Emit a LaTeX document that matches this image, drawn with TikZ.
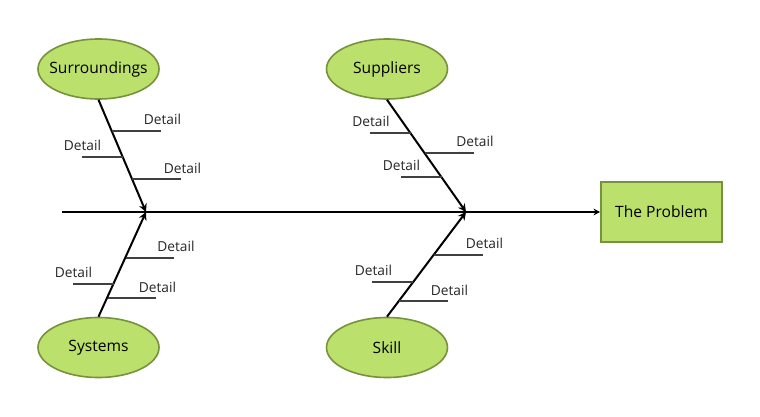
\documentclass[tikz,border=0pt]{standalone}
\usepackage{fontspec}
\setmainfont{Open Sans}
\usetikzlibrary{arrows.meta, shapes.geometric}
\definecolor{causefill}{RGB}{187,224,107}
\definecolor{causeline}{RGB}{118,146,60}
\definecolor{detailline}{RGB}{64,64,64}

\begin{document}
\begin{tikzpicture}[x=0.75pt, y=-0.75pt,
	cause/.style={ellipse, draw=causeline, fill=causefill, line width=1.2pt,
		minimum width=90.75pt, minimum height=45pt, inner xsep=-8pt, inner ysep=0pt,
		font=\fontsize{11.7}{14}\selectfont},
	problem/.style={rectangle, draw=causeline, fill=causefill, line width=1.2pt,
		minimum width=90.75pt, minimum height=45pt, inner sep=0pt,
		font=\fontsize{11.7}{14}\selectfont},
	bone/.style={line width=1.5pt, -{Stealth[length=6pt,width=6pt]}},
	detail/.style={detailline, line width=1.1pt},
	detailtext/.style={inner sep=0pt, text=black!85, font=\fontsize{10.3}{12}\selectfont}]
\useasboundingbox (0,0) rectangle (760,417);
\node[cause] (surroundings) at (98.5,69) {Surroundings};
\node[cause] (systems) at (98.5,347.5) {Systems};
\node[cause] (suppliers) at (387,69) {Suppliers};
\node[cause] (skill) at (387,347.5) {Skill};
\node[problem] (problem) at (661.5,212) {The Problem};
\coordinate (tail) at (62,212);
\coordinate (j1) at (146,212);
\coordinate (j2) at (466,212);
\draw[line width=1.5pt, -{Stealth[length=5pt,width=5pt]}] (tail) -- (problem.west);
\draw[bone] (surroundings.south) -- (j1);
\draw[bone] (systems.north) -- (j1);
\draw[bone] (suppliers.south) -- (j2);
\draw[bone] (skill.north) -- (j2);
% surroundings
\draw[detail] (112,131) -- (161,131);
\draw[detail] (82,157) -- (122.6,157);
\draw[detail] (131.6,179) -- (181,179);
\node[detailtext] (sur1) at (162.5,119) {Detail};
\node[detailtext] (sur2) at (82.5,145) {Detail};
\node[detailtext] (sur3) at (182.5,168) {Detail};
% systems
\draw[detail] (126,258) -- (174,258);
\draw[detail] (73,284) -- (114,284);
\draw[detail] (107.7,298) -- (156,298);
\node[detailtext] (sys1) at (176,246) {Detail};
\node[detailtext] (sys2) at (73.5,272) {Detail};
\node[detailtext] (sys3) at (157.5,287) {Detail};
% suppliers
\draw[detail] (370,133) -- (410.8,133);
\draw[detail] (424.7,153) -- (474,153);
\draw[detail] (401,177) -- (441.5,177);
\node[detailtext] (sup1) at (371,121) {Detail};
\node[detailtext] (sup2) at (475,141) {Detail};
\node[detailtext] (sup3) at (401.5,165) {Detail};
% skill
\draw[detail] (433.6,255) -- (483,255);
\draw[detail] (372,282) -- (413.3,282);
\draw[detail] (399,301) -- (448,301);
\node[detailtext] (ski1) at (484.5,243) {Detail};
\node[detailtext] (ski2) at (373.5,270) {Detail};
\node[detailtext] (ski3) at (449.5,290) {Detail};
\end{tikzpicture}
\end{document}
